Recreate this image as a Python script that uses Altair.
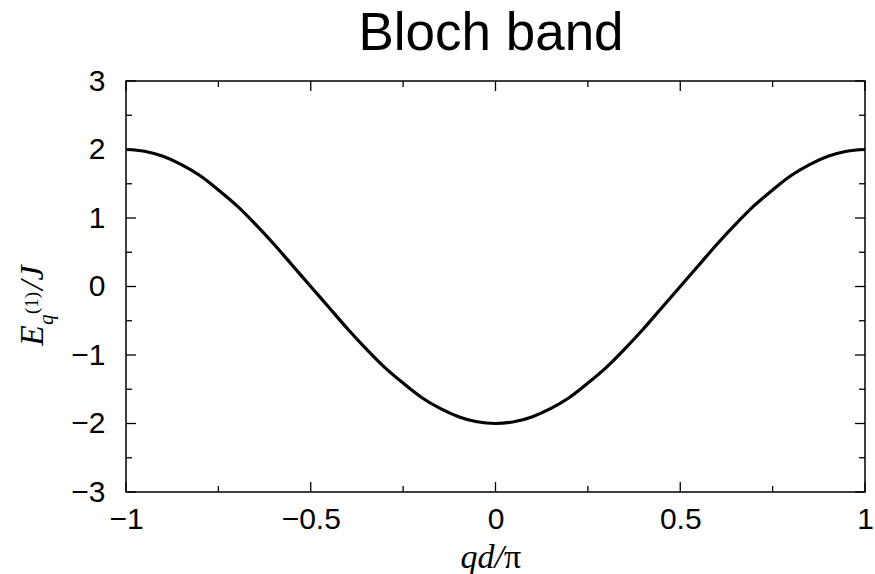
import altair as alt
import pandas as pd

# Curve
q_vals = [-1.0, -0.95, -0.9, -0.85, -0.8, -0.75, -0.7, -0.65, -0.6, -0.55, -0.5,
          -0.45, -0.4, -0.35, -0.3, -0.25, -0.2, -0.15, -0.1, -0.05, 0.0,
          0.05, 0.1, 0.15, 0.2, 0.25, 0.3, 0.35, 0.4, 0.45, 0.5,
          0.55, 0.6, 0.65, 0.7, 0.75, 0.8, 0.85, 0.9, 0.95, 1.0]
e_vals = [2.0, 1.975, 1.9, 1.78, 1.62, 1.41, 1.18, 0.91, 0.62, 0.31, 0.0,
          -0.31, -0.62, -0.91, -1.18, -1.41, -1.62, -1.78, -1.9, -1.975, -2.0,
          -1.975, -1.9, -1.78, -1.62, -1.41, -1.18, -0.91, -0.62, -0.31, 0.0,
          0.31, 0.62, 0.91, 1.18, 1.41, 1.62, 1.78, 1.9, 1.975, 2.0]

x_major = [-1, -0.5, 0, 0.5, 1]
x_minor = [-0.75, -0.25, 0.25, 0.75]
y_major = [-3, -2, -1, 0, 1, 2, 3]
y_minor = [-2.5, -1.5, -0.5, 0.5, 1.5, 2.5]

W, H = 739, 411
SANS = "Liberation Sans"
SERIF = "Liberation Serif"

curve = pd.DataFrame({"q": q_vals, "E": e_vals})

xs = alt.Scale(domain=[-1, 1], nice=False, zero=False)
ys = alt.Scale(domain=[-3, 3], nice=False, zero=False)

x_axis = alt.Axis(values=x_major, format="~g", ticks=False, tickSize=0, domain=False,
                  grid=False, labelFontSize=30, labelFont=SANS, labelColor="black",
                  labelPadding=12, labelFlush=False, title=None)
y_axis = alt.Axis(values=y_major, format="~g", ticks=False, tickSize=0, domain=False,
                  grid=False, labelFontSize=30, labelFont=SANS, labelColor="black",
                  labelPadding=21, labelFlush=False, title=None)

line = alt.Chart(curve).mark_line(color="black", strokeWidth=3.2, interpolate="monotone").encode(
    x=alt.X("q:Q", scale=xs, axis=x_axis),
    y=alt.Y("E:Q", scale=ys, axis=y_axis),
)

def xticks(vals, length):
    df = pd.DataFrame({"v": vals})
    bottom = alt.Chart(df).mark_rule(color="black", strokeWidth=1.3).encode(
        x=alt.X("v:Q", scale=xs), y=alt.value(H), y2=alt.value(H - length))
    top = alt.Chart(df).mark_rule(color="black", strokeWidth=1.3).encode(
        x=alt.X("v:Q", scale=xs), y=alt.value(0), y2=alt.value(length))
    return [bottom, top]

def yticks(vals, length):
    df = pd.DataFrame({"v": vals})
    left = alt.Chart(df).mark_rule(color="black", strokeWidth=1.3).encode(
        y=alt.Y("v:Q", scale=ys), x=alt.value(0), x2=alt.value(length))
    right = alt.Chart(df).mark_rule(color="black", strokeWidth=1.3).encode(
        y=alt.Y("v:Q", scale=ys), x=alt.value(W), x2=alt.value(W - length))
    return [left, right]

def txt(text, x, y, size, font=SERIF, style="italic", angle=0, align="left"):
    return alt.Chart(pd.DataFrame({"t": [text]})).mark_text(
        font=font, fontSize=size, fontStyle=style, angle=angle, align=align,
        baseline="alphabetic", color="black").encode(
        text="t:N", x=alt.value(x), y=alt.value(y))

labels = [
    # y-axis title: E_q^(1)/J
    txt("E", -83, 265, 34, angle=270),
    txt("q", -73, 244, 21, angle=270),
    txt("(1)", -88, 233, 19, style="normal", angle=270),
    txt("/J", -83, 209, 34, angle=270),
    # x-axis title: qd/π
    txt("qd/", 378, 487, 34, align="right"),
    txt("π", 378, 487, 34, style="normal"),
    # chart title
    txt("Bloch band", 365, -31, 53, font=SANS, style="normal", align="center"),
]

chart = alt.layer(
    line, *xticks(x_major, 10), *xticks(x_minor, 6), *yticks(y_major, 10), *yticks(y_minor, 6), *labels
).properties(
    width=W, height=H,
    autosize=alt.AutoSizeParams(type="none"),
    padding={"left": 126, "top": 81, "right": 10, "bottom": 82},
    background="white",
).configure_view(stroke="black", strokeWidth=1.5)

chart.save("out.html", embed_options={"renderer": "svg", "actions": False})
